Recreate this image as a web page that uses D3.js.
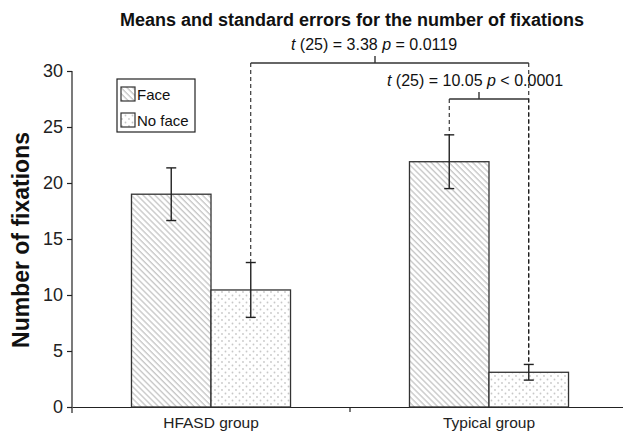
<!DOCTYPE html>
<html><head><meta charset="utf-8">
<script src="https://cdn.jsdelivr.net/npm/d3@7"></script>
<style>body{margin:0;background:#fff}svg{display:block}</style>
</head><body>
<svg id="c" width="623" height="437"></svg>
<script>
const groups = ["HFASD group", "Typical group"];
const series = ["Face", "No face"];
const means = [[19.0, 10.45], [21.9, 3.1]];
const errors = [[2.35, 2.45], [2.4, 0.7]];
const yTicks = [0, 5, 10, 15, 20, 25, 30];
const title = "Means and standard errors for the number of fixations";
const yLabel = "Number of fixations";

const svg = d3.select("#c");
const font = "'Liberation Sans', Arial, Helvetica, sans-serif";
const x0 = d3.scaleBand().domain(groups).range([72, 628]).paddingInner(0).paddingOuter(0);
const x1 = d3.scaleBand().domain(series).range([0, x0.bandwidth()]).paddingInner(0).paddingOuter(0.748);
const y = d3.scaleLinear().domain([0, 30]).range([407, 71]);

const defs = svg.append("defs");
const hatch = defs.append("pattern").attr("id", "hatch").attr("patternUnits", "userSpaceOnUse")
  .attr("width", 4.2).attr("height", 4.2).attr("patternTransform", "rotate(-45)");
hatch.append("rect").attr("width", 4.2).attr("height", 4.2).attr("fill", "#fff");
hatch.append("line").attr("x1", 1).attr("x2", 1).attr("y1", 0).attr("y2", 4.2)
  .attr("stroke", "#c8c8c8").attr("stroke-width", 1.4);
const dots = defs.append("pattern").attr("id", "dots").attr("patternUnits", "userSpaceOnUse")
  .attr("width", 7).attr("height", 7);
dots.append("rect").attr("width", 7).attr("height", 7).attr("fill", "#fff");
dots.append("circle").attr("cx", 1.5).attr("cy", 1.5).attr("r", 0.9).attr("fill", "#c8c8c8");
dots.append("circle").attr("cx", 5).attr("cy", 5).attr("r", 0.9).attr("fill", "#c8c8c8");
const fills = {"Face": "url(#hatch)", "No face": "url(#dots)"};

// title
svg.append("text").attr("x", 352).attr("y", 26).attr("text-anchor", "middle")
  .attr("font-family", font).attr("font-weight", "bold").attr("font-size", 18).attr("fill", "#111").text(title);

// y axis
const yAxis = svg.append("g").attr("transform", "translate(72,0)")
  .call(d3.axisLeft(y).tickValues(yTicks).tickSize(5).tickPadding(4).tickSizeOuter(0));
yAxis.select(".domain").attr("d", `M0,${y(30)}V${y(0) + 6}`).attr("stroke", "#222").attr("stroke-width", 1.2);
yAxis.selectAll(".tick line").attr("stroke", "#222").attr("stroke-width", 1.2);
yAxis.selectAll(".tick text").attr("font-family", font).attr("font-size", 18).attr("fill", "#222");

// x axis
const xAxis = svg.append("g").attr("transform", `translate(0,${y(0)})`)
  .call(d3.axisBottom(x0).tickSize(0).tickPadding(10).tickSizeOuter(0));
xAxis.select(".domain").attr("stroke", "#222").attr("stroke-width", 1.2);
xAxis.selectAll(".tick text").attr("font-family", font).attr("font-size", 15.5).attr("fill", "#222");
svg.append("line").attr("x1", x0("Typical group")).attr("x2", x0("Typical group"))
  .attr("y1", y(0)).attr("y2", y(0) + 5).attr("stroke", "#222").attr("stroke-width", 1.2);

// y label
svg.append("text").attr("transform", `translate(29,${(y(0) + y(30)) / 2 + 1}) rotate(-90)`)
  .attr("text-anchor", "middle").attr("font-family", font).attr("font-weight", "bold")
  .attr("font-size", 23).attr("fill", "#111").text(yLabel);

// bars
const cx = (g, s) => x0(groups[g]) + x1(series[s]) + x1.bandwidth() / 2;
groups.forEach((g, gi) => {
  series.forEach((s, si) => {
    svg.append("rect").attr("x", x0(g) + x1(s)).attr("width", x1.bandwidth())
      .attr("y", y(means[gi][si])).attr("height", y(0) - y(means[gi][si]))
      .attr("fill", fills[s]).attr("stroke", "#333").attr("stroke-width", 1.3);
  });
});
// error bars
groups.forEach((g, gi) => {
  series.forEach((s, si) => {
    const c = cx(gi, si), hi = y(means[gi][si] + errors[gi][si]), lo = y(means[gi][si] - errors[gi][si]);
    const eb = svg.append("g").attr("stroke", "#222").attr("stroke-width", 1.4);
    eb.append("line").attr("x1", c).attr("x2", c).attr("y1", hi).attr("y2", lo);
    eb.append("line").attr("x1", c - 5).attr("x2", c + 5).attr("y1", hi).attr("y2", hi);
    eb.append("line").attr("x1", c - 5).attr("x2", c + 5).attr("y1", lo).attr("y2", lo);
  });
});

// significance brackets
function bracket(a, b, by, tx, textX, label) {
  const xa = cx(a[0], a[1]), xb = cx(b[0], b[1]);
  const ya = y(means[a[0]][a[1]] + errors[a[0]][a[1]]), yb = y(means[b[0]][b[1]] + errors[b[0]][b[1]]);
  svg.append("line").attr("x1", xa).attr("x2", xa).attr("y1", by).attr("y2", ya)
    .attr("stroke", "#111").attr("stroke-width", 1).attr("stroke-dasharray", "4,3");
  svg.append("line").attr("x1", xb).attr("x2", xb).attr("y1", by).attr("y2", yb)
    .attr("stroke", "#111").attr("stroke-width", 1).attr("stroke-dasharray", "4,3");
  svg.append("line").attr("x1", xa).attr("x2", xb).attr("y1", by).attr("y2", by)
    .attr("stroke", "#333").attr("stroke-width", 1.4);
  svg.append("line").attr("x1", tx).attr("x2", tx).attr("y1", by).attr("y2", by - 7)
    .attr("stroke", "#333").attr("stroke-width", 1.4);
  const t = svg.append("text").attr("x", textX).attr("y", by - 13).attr("text-anchor", "middle")
    .attr("font-family", font).attr("font-size", 16).attr("fill", "#111");
  label.forEach(([str, it]) => t.append("tspan").attr("font-style", it ? "italic" : "normal").text(str));
}
bracket([0, 1], [1, 1], 63, 375, 374, [["t", 1], [" (25) = 3.38 ", 0], ["p", 1], [" = 0.0119", 0]]);
bracket([1, 0], [1, 1], 99, 479, 475, [["t", 1], [" (25) = 10.05 ", 0], ["p", 1], [" < 0.0001", 0]]);

// legend
const lg = svg.append("g").attr("transform", "translate(117,79)");
lg.append("rect").attr("width", 78).attr("height", 53).attr("fill", "#fff").attr("stroke", "#222").attr("stroke-width", 1.2);
series.forEach((s, i) => {
  lg.append("rect").attr("x", 4).attr("y", 8 + i * 26).attr("width", 14).attr("height", 14)
    .attr("fill", fills[s]).attr("stroke", "#333").attr("stroke-width", 1.2);
  lg.append("text").attr("x", 20).attr("y", 21 + i * 26).attr("font-family", font)
    .attr("font-size", 15).attr("fill", "#111").text(s);
});
</script>
</body></html>
